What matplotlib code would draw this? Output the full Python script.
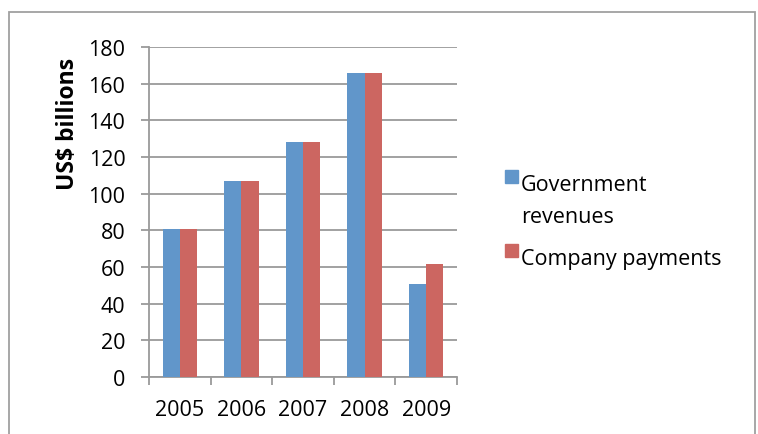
import matplotlib
matplotlib.use("Agg")
import matplotlib.pyplot as plt
import matplotlib.patches as mpatches
import numpy as np

plt.rcParams["font.family"] = ["Open Sans", "DejaVu Sans"]

years = ["2005", "2006", "2007", "2008", "2009"]
gov_revenues = [80.5, 107, 128, 166, 50.5]
company_payments = [81, 107, 128, 166, 61.5]

BLUE = "#6196CA"
RED = "#CC6661"
GRID = "#9a9a9a"

W, H = 758, 435
fig = plt.figure(figsize=(W / 100, H / 100), dpi=100)


def fx(px):
    return px / W


def fy(py):
    return 1 - py / H


# chart frame (bottom edge runs past the image)
fig.add_artist(mpatches.Rectangle((fx(9), fy(445)), fx(746), 432 / H,
                                  transform=fig.transFigure, fill=False,
                                  edgecolor="#a0a0a0", lw=1.3))

ax = fig.add_axes([fx(149), fy(378), fx(308), 330 / H])

x = np.arange(len(years))
bw = 0.28
ax.bar(x - bw / 2, gov_revenues, width=bw, color=BLUE, zorder=3)
ax.bar(x + bw / 2, company_payments, width=bw, color=RED, zorder=3)

ax.set_xlim(-0.5, len(years) - 0.5)
ax.set_ylim(0, 180)
ax.set_yticks(range(0, 181, 20))
ax.yaxis.grid(True, color=GRID, lw=1.3, zorder=0)
ax.set_axisbelow(True)

ax.set_xticks(x)
ax.set_xticklabels(years, fontsize=15.5)
ax.set_xticks(np.arange(-0.5, len(years)), minor=True)
ax.tick_params(axis="x", which="major", length=0, pad=16)
ax.tick_params(axis="x", which="minor", length=6, color=GRID, width=1.3)
ax.tick_params(axis="y", length=6, color=GRID, width=1.3, pad=11,
               labelsize=15.5)

for side in ("top", "right"):
    ax.spines[side].set_visible(False)
for side in ("left", "bottom"):
    ax.spines[side].set_color(GRID)
    ax.spines[side].set_linewidth(1.3)

fig.text(fx(68), fy(124), "US$ billions", rotation=90, fontsize=16.5,
         fontweight="bold", ha="center", va="center")

# legend: swatch beside the first line, wrapped lines 32 px apart
for (label, color, top) in [("Government\nrevenues", BLUE, 171),
                            ("Company payments", RED, 245)]:
    fig.add_artist(mpatches.Rectangle((fx(505), fy(top + 12.5)), fx(12.5),
                                      12.5 / H, transform=fig.transFigure,
                                      color=color))
    for i, line in enumerate(label.split("\n")):
        fig.text(fx(521), fy(top + 20 + 32 * i), line, fontsize=15.5,
                 ha="left", va="baseline")

fig.savefig("out.png", dpi=100)
